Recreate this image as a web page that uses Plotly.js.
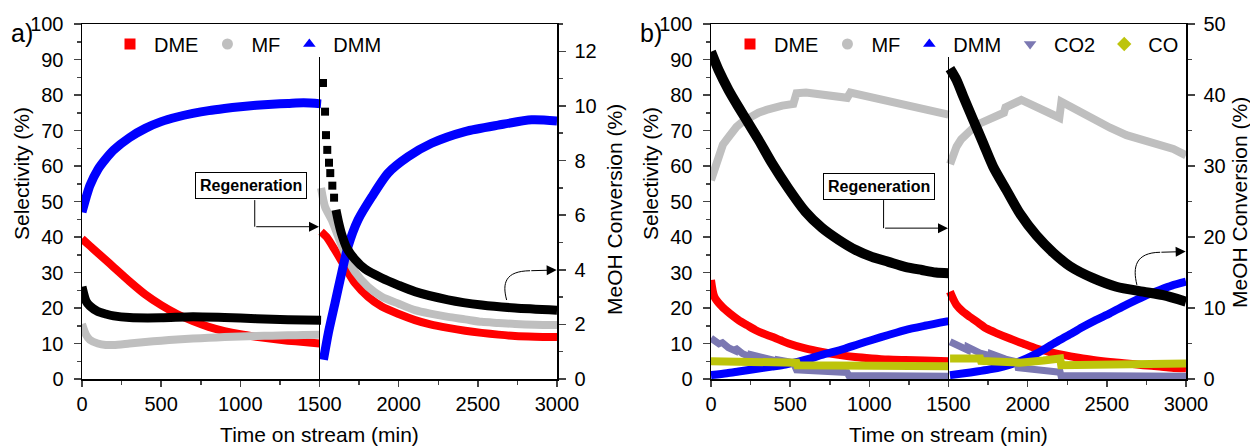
<!DOCTYPE html>
<html>
<head>
<meta charset="utf-8">
<script src="https://cdn.plot.ly/plotly-3.0.1.min.js"></script>
<style>html,body{margin:0;padding:0;background:#fff;}#chart{width:1250px;height:446px;}</style>
</head>
<body>
<div id="chart"></div>
<script>
// ---------- Panel a ----------
const aDME_t = [0,50,100,150,200,300,400,500,600,700,800,900,1000,1100,1200,1300,1400,1500,null,1510,1545,1598,1661,1724,1806,1893,2000,2103,2200,2312,2420,2524,2630,2735,2860,3000];
const aDME_v = [39.5,37.5,35.5,33.5,31.5,27.5,23.8,20.8,18.3,16.3,14.7,13.5,12.6,11.9,11.3,10.8,10.4,10,null,41.5,40,36.3,31.6,27,23.2,20.4,18.3,16.6,15.4,14.4,13.6,13,12.5,12.1,11.9,11.8];

const aMF_t = [0,25,50,100,150,200,300,400,500,600,700,800,900,1000,1100,1200,1300,1400,1500,null,1510,1535,1577,1619,1661,1724,1806,1893,2000,2103,2200,2312,2420,2524,2630,2735,2860,3000];
const aMF_v = [15.5,12.5,11,10,9.6,9.6,10,10.4,10.8,11.1,11.4,11.6,11.8,12,12.1,12.2,12.3,12.4,12.5,null,53.8,48.5,44.8,40,35.4,30.2,26,23.2,21.2,19.4,18.4,17.5,16.8,16.1,15.8,15.5,15.3,15.2];

const aDMM_t = [0,25,50,100,150,200,300,400,500,600,700,800,900,1000,1100,1200,1300,1400,1510,null,1525,1556,1598,1640,1680,1743,1830,1933,2059,2208,2419,2628,2840,3000];
const aDMM_v = [47,51,54.5,59,62,64.5,68,70.6,72.5,73.8,74.8,75.6,76.2,76.7,77.1,77.4,77.6,77.8,77.5,null,5.4,13,21.4,29.9,37.3,44.8,51.3,58,62.6,66.4,69.7,71.5,73,72.7];

const aConv_t = [0,25,50,100,150,200,300,500,700,900,1100,1300,1510,null,1604,1620,1640,1672,1724,1787,1893,1996,2103,2312,2524,2735,3000];
const aConv_v = [3.38,2.86,2.67,2.47,2.38,2.31,2.25,2.24,2.28,2.25,2.21,2.17,2.15,null,6.19,5.75,5.3,4.8,4.38,4.03,3.7,3.44,3.2,2.9,2.71,2.6,2.52];

const aConvJump_t = [1522,1535,1541,1549,1560,1568,1581,1592];
const aConvJump_v = [10.84,9.79,8.93,8.39,7.92,7.54,7.08,6.64];

// ---------- Panel b ----------
const bDME_t = [0,21,69,120,174,230,280,330,385,440,490,595,700,806,910,1016,1120,1226,1350,1500,null,1509,1530,1551,1590,1635,1690,1740,1810,1887,1970,2056,2140,2224,2320,2413,2520,2624,2730,2835,2910,3000];
const bDME_v = [27.9,23.2,20.4,18.4,16.6,15.1,13.8,12.8,11.9,10.9,10,8.6,7.6,6.8,6.2,5.8,5.5,5.35,5.2,5,null,24.6,22.5,20.8,19,17.5,15.8,14.2,12.8,11.4,10,8.6,7.6,6.8,6,5.35,4.8,4.4,3.9,3.5,3.2,3];

const bMF_t = [0,25,50,75,100,130,160,200,250,300,350,400,450,520,540,600,700,800,860,880,950,1000,1100,1200,1300,1400,1500,null,1510,1530,1551,1580,1614,1650,1698,1740,1782,1820,1850,1860,1900,1940,1960,2000,2077,2140,2200,2213,2300,2413,2520,2624,2730,2835,2920,3000];
const bMF_v = [56,60,63.5,66,67.5,69.5,71,72.5,74,75,75.8,76.5,77,77.5,80.5,80.7,80.3,79.7,79.2,80.7,80,79.2,78,77,76,75.2,74.5,null,60.5,63,65.5,67.5,69.2,70.5,72,73,73.9,74.5,75,76.5,77.3,78.6,78.6,77.8,76.2,75,73.6,78.1,76,73,70.8,68.7,67.2,65.9,64.8,63];

const bDMM_t = [0,100,174,280,385,470,553,630,700,780,848,930,1016,1120,1226,1350,1500,null,1509,1600,1677,1760,1845,1920,1993,2050,2098,2150,2203,2280,2350,2430,2519,2600,2687,2760,2835,2910,3000];
const bDMM_v = [1.1,1.6,2.1,2.8,3.5,4.1,4.9,5.8,6.8,7.7,8.6,9.8,11,12.4,13.8,15,16.3,null,1.1,1.6,2.1,2.7,3.5,4.5,5.8,7,8.2,9.6,11,12.9,14.7,16.6,18.5,20.4,22.3,23.8,25.1,26.3,27.4];

const bCO2_t = [0,30,60,62,110,150,152,200,250,252,350,420,422,520,540,700,860,870,1100,1500,null,1510,1560,1620,1622,1700,1767,1769,1860,1935,1940,2100,2205,2210,2600,3000];
const bCO2_v = [11.5,10.8,9.6,10.6,8.8,8,8.8,7.1,6.2,6.9,5.6,5,5.4,4.6,2.6,2.2,1.8,1,0.9,0.8,null,10.5,9.5,8.2,9,7.3,6.5,7.1,5.6,4.8,3.2,2.4,1.9,1,0.9,0.8];

const bCO_t = [0,150,300,450,540,545,700,860,870,1100,1300,1500,null,1510,1600,1700,1705,1850,1950,2100,2205,2212,2500,2800,3000];
const bCO_v = [5,4.9,4.8,4.7,4.6,3.9,3.9,3.8,3.4,3.5,3.5,3.6,null,5.8,6,5.8,5.1,4.8,4.6,5.2,5.8,3.9,4,4.2,4.4];

const bConv_t = [0,48,111,174,237,300,385,490,595,700,806,911,1016,1121,1226,1332,1420,1500,null,1509,1551,1593,1656,1719,1782,1866,1951,2056,2161,2266,2413,2560,2729,2855,3000];
const bConv_v = [46.1,43.5,40.7,38.3,36,33.7,30.4,26.8,23.6,21.3,19.6,18.2,17.2,16.5,15.8,15.35,15,14.9,null,43.7,42.1,39.8,36.5,33.2,29.9,26.6,23.3,20.2,17.8,15.9,14.2,13,12.3,11.8,10.9];

const legendNamesA = ['DME','MF','DMM'];
const legendNamesB = ['DME','MF','DMM','CO2','CO'];
const xTickVals = [0,500,1000,1500,2000,2500,3000];

// ---------- styles ----------
const FONT = 'Liberation Sans, Arial, sans-serif';
const C = {DME:'#ff0000', MF:'#bfbfbf', DMM:'#0000ff', CO2:'#7b78b2', CO:'#bdc40b', CONV:'#000000'};
const SYM = {DME:'square', MF:'circle', DMM:'triangle-up', CO2:'triangle-down', CO:'diamond'};

function band(x, y, color, xa, ya, w, smooth){
  const ln = {color:color, width:w||8};
  if (smooth) { ln.shape = 'spline'; ln.smoothing = 0.7; }
  return {x:x, y:y, xaxis:xa, yaxis:ya, mode:'lines', type:'scatter', showlegend:false,
          line:ln, connectgaps:false, hoverinfo:'skip'};
}
function legendItem(name, legend){
  return {x:[null], y:[null], mode:'markers', type:'scatter', name:name, legend:legend,
          marker:{symbol:SYM[name], color:C[name], size:11}, xaxis: legend==='legend'?'x':'x2',
          yaxis: legend==='legend'?'y':'y3'};
}

const traces = [
  band(aDME_t, aDME_v, C.DME, 'x', 'y', 8, true),
  band(aMF_t, aMF_v, C.MF, 'x', 'y', 8, true),
  band(aDMM_t, aDMM_v, C.DMM, 'x', 'y', 9, true),
  band(aConv_t, aConv_v, C.CONV, 'x', 'y2', 9, true),
  {x:aConvJump_t, y:aConvJump_v, xaxis:'x', yaxis:'y2', mode:'markers', type:'scatter', showlegend:false,
   marker:{symbol:'square', color:'#000', size:8}, hoverinfo:'skip'},
  band(bDME_t, bDME_v, C.DME, 'x2', 'y3', 8, true),
  band(bMF_t, bMF_v, C.MF, 'x2', 'y3', 8, false),
  band(bDMM_t, bDMM_v, C.DMM, 'x2', 'y3', 8, true),
  band(bCO2_t, bCO2_v, C.CO2, 'x2', 'y3', 7, false),
  band(bCO_t, bCO_v, C.CO, 'x2', 'y3', 8, false),
  band(bConv_t, bConv_v, C.CONV, 'x2', 'y4', 10, true)
];
legendNamesA.forEach(n => traces.push(legendItem(n, 'legend')));
legendNamesB.forEach(n => traces.push(legendItem(n, 'legend2')));

const W = 1250, H = 446;
const px = v => v / W, py = v => 1 - v / H;
const yDom = [py(379), py(24)];

const tickFont = {family:FONT, size:20, color:'#000'};
function xAxis(dom, anchor){
  return {domain:dom, anchor:anchor, range:[0,3000], tickvals:xTickVals, ticks:'outside', ticklen:6, tickwidth:1.5,
          showline:true, linewidth:1.5, linecolor:'#000', mirror:true, showgrid:false, zeroline:false,
          tickfont:tickFont, ticklabelstandoff:0,
          minor:{dtick:250, ticks:'outside', ticklen:4, tickwidth:1.5, showgrid:false},
          title:{text:'Time on stream (min)', font:{family:FONT, size:21, color:'#000'}, standoff:14}};
}
function yLeft(anchor){
  return {domain:yDom, anchor:anchor, range:[0,100], dtick:10, ticks:'outside', ticklen:7, tickwidth:1.5,
          showline:true, linewidth:1.5, linecolor:'#000', showgrid:false, zeroline:false, tickfont:tickFont,
          ticklabelstandoff:6, minor:{dtick:5, ticks:'outside', ticklen:4, tickwidth:1.5, showgrid:false}};
}
function yRight(over, anchor, max, dt){
  return {overlaying:over, anchor:anchor, side:'right', range:[0,max], dtick:dt, ticks:'outside', ticklen:7, tickwidth:1.5,
          showline:true, linewidth:1.5, linecolor:'#000', showgrid:false, zeroline:false, tickfont:tickFont,
          ticklabelstandoff:5, minor:{dtick:dt/2, ticks:'outside', ticklen:4, tickwidth:1.5, showgrid:false}};
}

function regenBox(xr, yr, bx, by){
  return {xref:xr, yref:yr, x:bx, y:by, xanchor:'center', yanchor:'middle', text:'<b>Regeneration</b>', showarrow:false,
          font:{family:FONT, size:16, color:'#000'}, bgcolor:'#fff', bordercolor:'#000', borderwidth:1, borderpad:4};
}
function arrowAnn(xr, yr, x0, y0, x1, y1, size){
  return {xref:xr, yref:yr, axref:xr, ayref:yr, x:x1, y:y1, ax:x0, ay:y0, text:'', showarrow:true,
          arrowhead:2, arrowsize:size||2, arrowwidth:1, arrowcolor:'#000', standoff:0, startstandoff:0};
}
function label(xPix, yPix, text, size, angle){
  return {xref:'paper', yref:'paper', x:px(xPix), y:py(yPix), xanchor:'center', yanchor:'middle',
          text:text, textangle:angle||0, showarrow:false, font:{family:FONT, size:size, color:'#000'}};
}

const layout = {
  width:W, height:H, autosize:false, margin:{l:0, r:0, t:0, b:0},
  paper_bgcolor:'#fff', plot_bgcolor:'#fff', font:{family:FONT, color:'#000'},
  xaxis: xAxis([px(82), px(557)], 'y'),
  yaxis: yLeft('x'),
  yaxis2: yRight('y', 'x', 13, 2),
  xaxis2: xAxis([px(711), px(1186)], 'y3'),
  yaxis3: yLeft('x2'),
  yaxis4: yRight('y3', 'x2', 50, 10),
  legend:{orientation:'h', x:px(106), xanchor:'left', y:py(44), yanchor:'middle', itemwidth:38,
          font:{family:FONT, size:20, color:'#000'}, bgcolor:'rgba(0,0,0,0)', borderwidth:0, itemclick:false},
  legend2:{orientation:'h', x:px(726), xanchor:'left', y:py(44), yanchor:'middle', itemwidth:38,
          font:{family:FONT, size:20, color:'#000'}, bgcolor:'rgba(0,0,0,0)', borderwidth:0, itemclick:false},
  shapes:[
    {type:'line', xref:'x', yref:'y', x0:1500, x1:1500, y0:0, y1:90.7, line:{color:'#000', width:1}},
    {type:'line', xref:'x2', yref:'y3', x0:1500, x1:1500, y0:0, y1:90.7, line:{color:'#000', width:1}},
    {type:'line', xref:'x', yref:'y', x0:1091, x1:1091, y0:50.4, y1:42.9, line:{color:'#000', width:1}},
    {type:'line', xref:'x2', yref:'y3', x0:1090, x1:1090, y0:50.4, y1:42.5, line:{color:'#000', width:1}},
    {type:'path', xref:'x', yref:'y', path:'M 2682,22.25 C 2653,27 2672,30.4 2830,30.5', line:{color:'#000', width:1}},
    {type:'path', xref:'x2', yref:'y3', path:'M 2690,26.5 C 2662,31.5 2680,35.6 2837,35.7', line:{color:'#000', width:1}}
  ],
  annotations:[
    regenBox('x', 'y', 1070, 54.4),
    regenBox('x2', 'y3', 1060, 54.3),
    arrowAnn('x', 'y', 1091, 42.9, 1497, 42.9),
    arrowAnn('x2', 'y3', 1090, 42.5, 1497, 42.5),
    arrowAnn('x', 'y', 2828, 30.5, 2998, 30.7),
    arrowAnn('x2', 'y3', 2835, 35.7, 2998, 35.9),
    label(22, 33, 'a)', 25),
    label(651, 33, 'b)', 25),
    label(21, 174, 'Selectivity (%)', 21, -90),
    label(650, 174, 'Selectivity (%)', 21, -90),
    label(614, 210, 'MeOH Conversion (%)', 21, -90),
    label(1239, 203, 'MeOH Conversion (%)', 21, -90)
  ]
};

Plotly.newPlot('chart', traces, layout, {displayModeBar:false, staticPlot:true});
</script>
</body>
</html>
